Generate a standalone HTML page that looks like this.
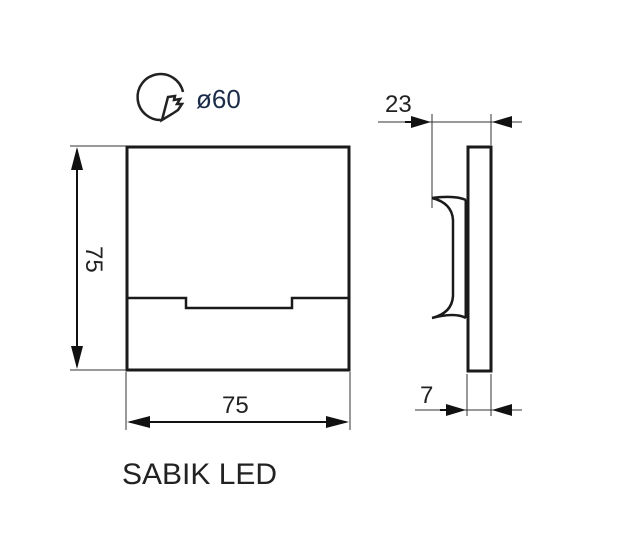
<!DOCTYPE html>
<html><head><style>
body{margin:0;background:#fff;width:622px;height:559px;overflow:hidden}
svg{display:block}
text{font-family:"Liberation Sans",sans-serif;fill:#222}
</style></head><body>
<svg width="622" height="559" viewBox="0 0 622 559">
<!-- icon -->
<path d="M183,92 A23,23 0 1 0 162,120" fill="none" stroke="#222" stroke-width="2.5"/>
<path d="M162,120 L168,97 L175,96 L174,100 L180,99 L177,104 L182,104 L178,110 L172,114 Z" fill="none" stroke="#222" stroke-width="2.5"/>
<text x="196" y="108" font-size="26" style="fill:#1b2b48">ø60</text>
<!-- front -->
<rect x="127" y="147" width="222" height="223" fill="none" stroke="#1a1a1a" stroke-width="3"/>
<path d="M127,298 H186 V308 H292 V298 H349" fill="none" stroke="#1a1a1a" stroke-width="2.5"/>
<g stroke="#333" stroke-width="1" fill="none">
<line x1="70" y1="146" x2="126" y2="146"/>
<line x1="70" y1="370" x2="126" y2="370"/>
<line x1="126" y1="372" x2="126" y2="430"/>
<line x1="350" y1="372" x2="350" y2="430"/>
<line x1="378" y1="122" x2="522" y2="122"/>
<line x1="432" y1="114" x2="432" y2="208"/>
<line x1="491" y1="114" x2="491" y2="145"/>
<line x1="415" y1="410" x2="522" y2="410"/>
<line x1="467" y1="374" x2="467" y2="416"/>
<line x1="491" y1="374" x2="491" y2="416"/>
</g>
<g stroke="#111" stroke-width="2">
<line x1="77" y1="150" x2="77" y2="366"/>
<line x1="130" y1="422" x2="346" y2="422"/>
<line x1="405" y1="122" x2="420" y2="122"/>
<line x1="440" y1="410" x2="455" y2="410"/>
</g>
<g fill="#111">
<polygon points="77,147 71,170 83,170"/>
<polygon points="77,369 71,346 83,346"/>
<polygon points="127,422 150,416 150,428"/>
<polygon points="349,422 326,416 326,428"/>
<polygon points="431,122 411,116 411,128"/>
<polygon points="492,122 512,116 512,128"/>
<polygon points="466,410 446,404 446,416"/>
<polygon points="492,410 512,404 512,416"/>
</g>
<text x="0" y="0" font-size="24" transform="translate(86,246) rotate(90)">75</text>
<text x="222" y="413" font-size="24">75</text>
<text x="385" y="112" font-size="24">23</text>
<text x="420" y="403" font-size="24">7</text>
<!-- side -->
<rect x="468" y="147" width="23" height="224" fill="none" stroke="#1a1a1a" stroke-width="3"/>
<line x1="466" y1="200" x2="466" y2="318" stroke="#1a1a1a" stroke-width="3"/>
<path d="M432,198 Q455,195 466,200 M432,198 Q452,203 453,220 V296 Q452,313 432,318 M432,318 Q455,312 466,318" fill="none" stroke="#1a1a1a" stroke-width="2.5"/>
<text x="122" y="484" font-size="30">SABIK LED</text>
</svg>
</body></html>
